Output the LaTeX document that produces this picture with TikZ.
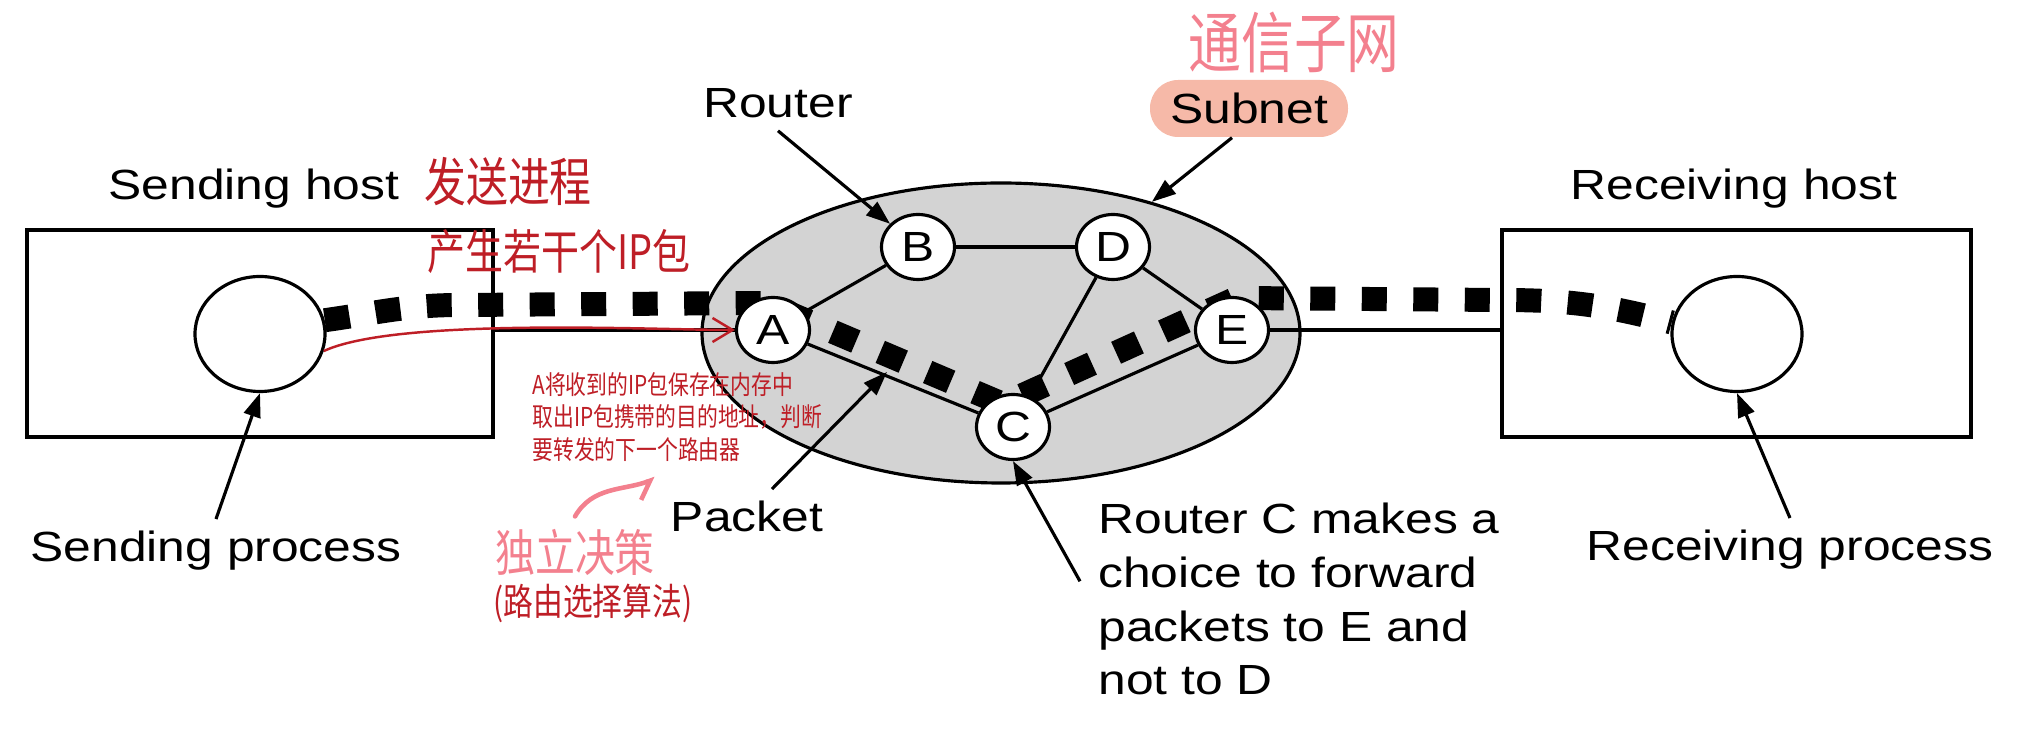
\documentclass[tikz,border=0pt]{standalone}
\usepackage{xcolor}
\usepackage{fontspec}
\usepackage{tikz}
\usetikzlibrary{positioning, shapes.geometric, arrows.meta}

\setmainfont{Liberation Sans}[FakeStretch=1.18]
\newfontfamily\cjk{Noto Sans CJK SC}[FakeStretch=0.8]

\definecolor{netgray}{RGB}{211,211,211}
\definecolor{pillred}{RGB}{246,185,168}
\definecolor{inkred}{RGB}{190,30,38}
\definecolor{inkpink}{RGB}{243,128,142}

\begin{document}
\begin{tikzpicture}[
    font=\fontsize{12}{15.3}\selectfont,
    host/.style={rectangle, draw, line width=0.9pt, minimum width=4.66cm, minimum height=2.07cm},
    proc/.style={ellipse, draw, line width=0.9pt, fill=white, minimum width=1.3cm, minimum height=1.15cm},
    router/.style={ellipse, draw, line width=0.9pt, fill=white, minimum width=7.3mm, minimum height=6.5mm, inner sep=0pt},
    link/.style={line width=0.9pt},
    pointer/.style={-{Triangle[length=2.4mm, width=1.7mm]}, line width=0.9pt},
    packets/.style={line width=2.4mm, dash pattern=on 2.5mm off 2.65mm},
    ink/.style={inkred, font=\cjk\fontsize{#1}{#1}\selectfont},
    pinkink/.style={inkpink, font=\cjk\fontsize{#1}{#1}\selectfont}
]
    \useasboundingbox (0,0) rectangle (20.31,-7.37);

    \node[ellipse, draw, fill=netgray, line width=0.9pt, minimum width=5.98cm, minimum height=3cm] (subnet) at (10.01,-3.33) {};

    \node[host] (sbox) at (2.60,-3.335) {};
    \node[host, minimum width=4.69cm] (rbox) at (17.365,-3.335) {};
    \node[proc] (sproc) at (2.60,-3.34) {};
    \node[proc] (rproc) at (17.37,-3.34) {};

    \coordinate (p1) at (4.60,-3.05);
    \coordinate (p2) at (7.65,-3.03);
    \coordinate (p3) at (10.03,-4.04);
    \coordinate (p4) at (12.37,-2.98);
    \coordinate (p5) at (15.00,-3.00);
    \coordinate (pkt) at (8.87,-3.72);
    \draw[packets] (sproc.12) to[out=8, in=180] (p1) -- (p2) -- (p3) -- (p4) -- (p5) to[out=0, in=165] (rproc.170);

    \node[router] (A) at (7.73,-3.30) {A};
    \node[router] (B) at (9.18,-2.47) {B};
    \node[router] (D) at (11.13,-2.47) {D};
    \node[router] (E) at (12.32,-3.30) {E};
    \node[router] (C) at (10.13,-4.27) {C};

    \draw[link] (A.west -| sbox.east) -- (A.west);
    \draw[link] (A) -- (B);
    \draw[link] (B) -- (D);
    \draw[link] (D) -- (E);
    \draw[link] (D) -- (C);
    \draw[link] (A) -- (C);
    \draw[link] (C) -- (E);
    \draw[link] (E.east) -- (E.east -| rbox.west);

    \node[anchor=base] (shost) at (2.54,-2.00) {Sending host};
    \node[anchor=base] (rhost) at (17.34,-2.00) {Receiving host};
    \node[anchor=base] (sproclbl) at (2.16,-5.62) {Sending process};
    \node[anchor=base] (rproclbl) at (17.90,-5.61) {Receiving process};
    \node[anchor=base] (routerlbl) at (7.78,-1.18) {Router};
    \node[anchor=base] (packetlbl) at (7.47,-5.32) {Packet};
    \node[fill=pillred, rounded corners=2.8mm, minimum width=1.98cm, minimum height=5.7mm, inner sep=0pt] (subnetlbl) at (12.49,-1.085) {Subnet};
    \node[anchor=base west, align=left] (choicelbl) at (10.86,-6.95) {Router C makes a\\choice to forward\\packets to E and\\not to D};

    \draw[pointer] (routerlbl.south) -- (B);
    \draw[pointer] ([xshift=-1.7mm]subnetlbl.south) -- (subnet.41);
    \draw[pointer] ([xshift=2.5mm]packetlbl.north) -- (pkt);
    \draw[pointer] ([shift={(-0.6mm,1.8mm)}]choicelbl.west) -- (C.south);
    \draw[pointer] (sproclbl.north) -- (sproc.south);
    \draw[pointer] (rproclbl.north) -- (rproc.south);

    \node[pinkink=18.8] (commsub) at (12.94,-0.43) {通信子网};
    \node[ink=14.9] (sendnote) at (5.08,-1.82) {发送进程};
    \node[ink=13.5] (ipnote) at (5.59,-2.52) {产生若干个IP包};
    \node[inkred, font=\cjk\fontsize{7.4}{9.2}\selectfont, align=left, anchor=west] (keepnote) at (5.20,-4.17) {A将收到的IP包保存在内存中\\取出IP包携带的目的地址，判断\\要转发的下一个路由器};
    \node[pinkink=14.2] (indep) at (5.75,-5.52) {独立决策};
    \node[ink=10.6] (algo) at (5.93,-6.03) {(路由选择算法)};

    \draw[inkred, line width=0.7pt, -{Straight Barb[length=2mm, width=2.4mm]}] (sproc.-15) to[out=25, in=180, looseness=0.5] (A.west);
    \draw[inkpink, line width=1.3pt, line cap=round, -{Straight Barb[right, length=1.5mm, width=3mm]}] (indep.north) to[out=60, in=200] ([shift={(-2.2mm,-0.5mm)}]keepnote.south);
\end{tikzpicture}
\end{document}
